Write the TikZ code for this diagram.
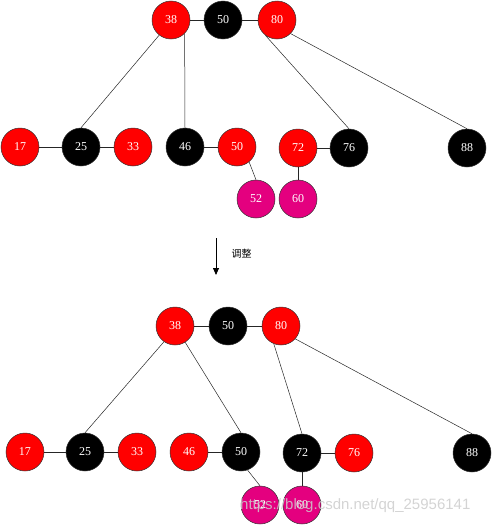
\documentclass[tikz,border=0pt]{standalone}
\usepackage{fontspec}
\setmainfont{Liberation Serif}
\newfontfamily\cjkfont{Noto Sans CJK SC}
\newfontfamily\markfont{Liberation Sans}
\usetikzlibrary{arrows.meta, positioning}
\definecolor{rbred}{RGB}{255,0,0}
\definecolor{rbblack}{RGB}{0,0,0}
\definecolor{rbpink}{RGB}{228,0,127}
\tikzset{
  rbnode/.style={circle, draw=black!80, line width=0.5pt, minimum size=38pt, inner sep=0pt, text=white, font=\fontsize{12}{12}\selectfont},
  rednode/.style={rbnode, fill=rbred},
  blknode/.style={rbnode, fill=rbblack},
  pinknode/.style={rbnode, fill=rbpink},
  link/.style={draw=black!85, line width=0.5pt},
  hlink/.style={draw=black!85, line width=0.9pt}
}

\begin{document}
\begin{tikzpicture}[x=1pt, y=-1pt]
  \useasboundingbox (0,0) rectangle (492,525);
  % Top tree, before
  \node[rednode] (t38) at (171,20) {38};
  \node[blknode] (t50a) at (223,20) {50};
  \node[rednode] (t80) at (277,20) {80};
  \node[rednode] (t17) at (20,147) {17};
  \node[blknode] (t25) at (81,147) {25};
  \node[rednode] (t33) at (133,147) {33};
  \node[blknode] (t46) at (185,147) {46};
  \node[rednode] (t50b) at (237,147) {50};
  \node[rednode] (t72) at (298,148) {72};
  \node[blknode] (t76) at (349,148) {76};
  \node[blknode] (t88) at (467,148) {88};
  \node[pinknode] (t52) at (256,199) {52};
  \node[pinknode] (t60) at (298,199) {60};
  % Top tree links
  \draw[hlink] (t38) -- (t50a);
  \draw[hlink] (t50a) -- (t80);
  \draw[hlink] (t17) -- (t25);
  \draw[hlink] (t25) -- (t33);
  \draw[hlink] (t46) -- (t50b);
  \draw[hlink] (t72) -- (t76);
  \draw[link] (t38.-128) -- (t25.north);
  \draw[link] (t38.-45) -- (t46.north);
  \draw[link] (t80.-127) -- (t76.north);
  \draw[link] (t80.-45) -- (t88.north);
  \draw[link] (t50b.-51) -- (t52.north);
  \draw[hlink] (t72) -- (t60);
  % Adjust arrow
  \coordinate (arrtop) at (216,238);
  \coordinate (arrbot) at (216,275);
  \draw[line width=0.8pt, -{Triangle[length=7pt, width=6pt]}] (arrtop) -- (arrbot);
  \node[font=\cjkfont\fontsize{10}{10}\selectfont, anchor=west] (adjust) at (228,254) {调整};
  % Bottom tree, after
  \node[rednode] (b38) at (175,326) {38};
  \node[blknode] (b50a) at (228,326) {50};
  \node[rednode] (b80) at (281,326) {80};
  \node[rednode] (b17) at (25,452) {17};
  \node[blknode] (b25) at (85,452) {25};
  \node[rednode] (b33) at (137,452) {33};
  \node[rednode] (b46) at (189,452) {46};
  \node[blknode] (b50b) at (241,452) {50};
  \node[blknode] (b72) at (302,453) {72};
  \node[rednode] (b76) at (354,453) {76};
  \node[blknode] (b88) at (472,453) {88};
  \node[pinknode] (b52) at (260,505) {52};
  \node[pinknode] (b60) at (302,505) {60};
  % Bottom tree links
  \draw[hlink] (b38) -- (b50a);
  \draw[hlink] (b50a) -- (b80);
  \draw[hlink] (b17) -- (b25);
  \draw[hlink] (b25) -- (b33);
  \draw[hlink] (b46) -- (b50b);
  \draw[hlink] (b72) -- (b76);
  \draw[link] (b38.-125) -- (b25.north);
  \draw[link] (b38.-58) -- (b50b.north);
  \draw[link] (b80.-112) -- (b72.north);
  \draw[link] (b80.-42) -- (b88.north);
  \draw[link] (b50b.-70) -- (b52.north);
  \draw[hlink] (b72) -- (b60);
  % Watermark
  \node[font=\markfont\fontsize{15}{15}\selectfont, text=white!80!black, text opacity=0.85, anchor=west, inner sep=0pt] (mark) at (240,506) {https://blog.csdn.net/qq\_25956141};
\end{tikzpicture}
\end{document}
